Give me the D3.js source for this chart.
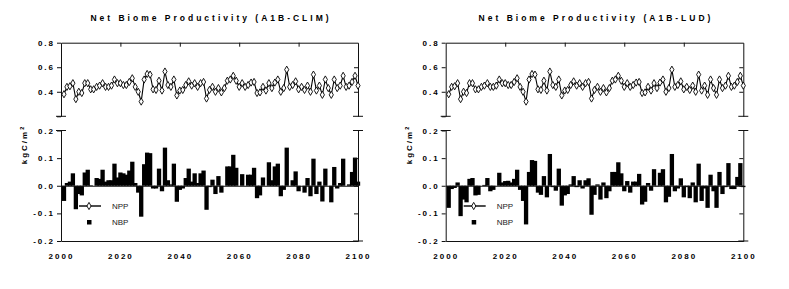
<!DOCTYPE html>
<html>
<head>
<meta charset="utf-8">
<script src="https://cdn.jsdelivr.net/npm/d3@7"></script>
<style>
body { margin: 0; background: #fff; }
svg text { font-family: "Liberation Sans", Arial, sans-serif; }
.axis .tick text { font-size: 8px; font-weight: bold; letter-spacing: 2px; fill: #000; }
.axis path, .axis line { stroke: #111; stroke-width: 1; }
</style>
</head>
<body>
<div id="vis"></div>
<script>
// data
const years = d3.range(2001, 2101);

const npp = [
  0.38, 0.44, 0.445, 0.47, 0.34, 0.40, 0.39, 0.47, 0.47, 0.42,
  0.42, 0.44, 0.45, 0.47, 0.44, 0.44, 0.45, 0.50, 0.47, 0.47,
  0.455, 0.455, 0.48, 0.51, 0.44, 0.40, 0.32, 0.50, 0.545, 0.54,
  0.42, 0.415, 0.49, 0.41, 0.565, 0.455, 0.44, 0.50, 0.37, 0.41,
  0.415, 0.455, 0.485, 0.45, 0.47, 0.44, 0.47, 0.48, 0.345, 0.415,
  0.44, 0.40, 0.43, 0.395, 0.43, 0.49, 0.50, 0.53, 0.49, 0.44,
  0.47, 0.44, 0.455, 0.475, 0.48, 0.39, 0.395, 0.44, 0.41, 0.47,
  0.43, 0.475, 0.50, 0.40, 0.43, 0.58, 0.44, 0.455, 0.485, 0.42,
  0.44, 0.415, 0.45, 0.40, 0.54, 0.41, 0.45, 0.375, 0.50, 0.43,
  0.375, 0.50, 0.43, 0.45, 0.53, 0.44, 0.45, 0.48, 0.53, 0.45
];

const nbpClim = [
  -0.055, 0.01, 0.015, 0.045, -0.085, -0.03, -0.035, 0.048, 0.058, 0.002,
  0.0, 0.028, 0.025, 0.058, 0.015, 0.02, 0.02, 0.08, 0.03, 0.048,
  0.045, 0.04, 0.055, 0.087, 0.01, -0.025, -0.112, 0.078, 0.12, 0.118,
  -0.01, -0.01, 0.062, -0.02, 0.138, 0.02, 0.005, 0.08, -0.058, -0.015,
  -0.01, 0.028, 0.062, 0.015, 0.045, 0.01, 0.045, 0.055, -0.087, -0.005,
  0.022, -0.03, 0.035, -0.025, 0.0, 0.07, 0.07, 0.112, 0.065, 0.0,
  0.042, 0.0, 0.04, 0.04, 0.065, -0.045, -0.035, 0.03, 0.0, 0.085,
  0.02, 0.07, 0.08, -0.038, -0.015, 0.138, 0.0, 0.02, 0.052, -0.02,
  0.0, -0.025, 0.028, -0.038, 0.098, -0.03, 0.015, -0.057, 0.062, 0.0,
  -0.06, 0.068, -0.01, 0.01, 0.098, 0.0, 0.005, 0.05, 0.102, 0.015
];

const nbpLud = [
  -0.08, -0.012, -0.008, 0.012, -0.11, -0.05, -0.06, 0.025, 0.028, -0.035,
  -0.033, 0.0, 0.003, 0.028, -0.02, -0.015, 0.0, 0.047, 0.012, 0.017,
  0.018, 0.012, 0.025, 0.058, -0.015, -0.055, -0.14, 0.05, 0.093, 0.09,
  -0.025, -0.033, 0.035, -0.042, 0.115, -0.005, -0.018, 0.062, -0.072, -0.035,
  -0.03, 0.005, 0.035, -0.005, 0.02, -0.01, 0.02, 0.027, -0.105, -0.033,
  0.005, -0.05, 0.012, -0.045, -0.02, 0.05, 0.05, 0.085, 0.045, -0.02,
  0.017, -0.025, 0.015, 0.015, 0.043, -0.068, -0.058, 0.01, -0.018, 0.06,
  -0.002, 0.047, 0.06, -0.06, -0.04, 0.115, -0.02, -0.01, 0.027, -0.042,
  -0.005, -0.045, 0.012, -0.06, 0.08, -0.055, -0.01, -0.08, 0.04, -0.02,
  -0.08, 0.05, -0.03, -0.005, 0.082, -0.012, -0.012, 0.032, 0.082, -0.005
];

const titles = ["Net Biome Productivity (A1B-CLIM)", "Net Biome Productivity (A1B-LUD)"];
const yearTicks = [2000, 2020, 2040, 2060, 2080, 2100];
const nppTicks = [0.2, 0.4, 0.6, 0.8];
const nbpTicks = [-0.2, -0.1, 0.0, 0.1, 0.2];
const legendLabels = ["NPP", "NBP"];

// frame
const FRAME_WIDTH = 789;
const FRAME_HEIGHT = 289;
const TOP_PANEL = {bottom: 116.3, top: 42.7};
const BOT_PANEL = {bottom: 241, top: 130.5};
const PANELS = [
  {left: 61, right: 358, title: titles[0], nbp: nbpClim, labelX: 24},
  {left: 445.7, right: 743.3, title: titles[1], nbp: nbpLud, labelX: 409}
];

const svg = d3.select("#vis")
  .append("svg")
  .attr("width", FRAME_WIDTH)
  .attr("height", FRAME_HEIGHT);

// short tick crossing the axis line
function crossTick(g, y) {
  g.append("line")
    .attr("x1", -5).attr("x2", 5)
    .attr("y1", y).attr("y2", y)
    .attr("stroke", "#111");
}

PANELS.forEach((p) => {
  const x = d3.scaleLinear().domain([2000, 2100]).range([p.left, p.right]);
  const yT = d3.scaleLinear().domain([0.2, 0.8]).range([TOP_PANEL.bottom, TOP_PANEL.top]);
  const yB = d3.scaleLinear().domain([-0.2, 0.2]).range([BOT_PANEL.bottom, BOT_PANEL.top]);
  const step = x(2001) - x(2000);

  // title
  svg.append("text")
    .attr("x", (p.left + p.right) / 2 + 1.5)
    .attr("y", 20.5)
    .attr("text-anchor", "middle")
    .attr("font-size", "8.5px")
    .attr("font-weight", "bold")
    .attr("letter-spacing", "3px")
    .attr("fill", "#000")
    .text(p.title);

  // ---- top panel (NPP) ----
  const tl = svg.append("g").attr("class", "axis")
    .attr("transform", "translate(" + p.left + ",0)")
    .call(d3.axisLeft(yT).tickValues(nppTicks).tickSize(4).tickSizeOuter(0).tickPadding(2)
      .tickFormat((d) => d === 0.2 ? "" : d.toFixed(1)));
  crossTick(tl, yT(0.2));

  const tr = svg.append("g").attr("class", "axis")
    .attr("transform", "translate(" + p.right + ",0)")
    .call(d3.axisLeft(yT).tickValues([0.4, 0.6]).tickSize(4).tickSizeOuter(0).tickFormat(""));
  crossTick(tr, yT(0.2));

  svg.append("g").attr("class", "axis")
    .attr("transform", "translate(0," + yT(0.8) + ")")
    .call(d3.axisBottom(x).tickValues([2020, 2040, 2060, 2080]).tickSize(4).tickSizeOuter(0).tickFormat(""));

  const line = d3.line()
    .x((d, i) => x(years[i]))
    .y((d) => yT(d));

  svg.append("path")
    .datum(npp)
    .attr("d", line)
    .attr("fill", "none")
    .attr("stroke", "#000")
    .attr("stroke-width", 1.1);

  svg.append("g")
    .selectAll("path")
    .data(npp)
    .join("path")
      .attr("transform", (d, i) => "translate(" + x(years[i]) + "," + yT(d) + ")")
      .attr("d", d3.symbol(d3.symbolDiamond, 15))
      .attr("fill", "#fff")
      .attr("stroke", "#000")
      .attr("stroke-width", 0.9);

  // ---- bottom panel (NBP) ----
  svg.append("g")
    .selectAll("rect")
    .data(p.nbp)
    .join("rect")
      .attr("x", (d, i) => x(years[i]) - step * 0.72)
      .attr("width", step * 1.45)
      .attr("y", (d) => yB(Math.max(0, d)))
      .attr("height", (d) => Math.abs(yB(d) - yB(0)))
      .attr("fill", "#000");

  const bl = svg.append("g").attr("class", "axis")
    .attr("transform", "translate(" + p.left + ",0)")
    .call(d3.axisLeft(yB).tickValues(nbpTicks).tickSize(4).tickSizeOuter(0).tickPadding(2)
      .tickFormat((d) => d.toFixed(1)));
  crossTick(bl, yB(0.2));

  const br = svg.append("g").attr("class", "axis")
    .attr("transform", "translate(" + p.right + ",0)")
    .call(d3.axisLeft(yB).tickValues([-0.1, 0.0, 0.1]).tickSize(4).tickSizeOuter(0).tickFormat(""));
  crossTick(br, yB(0.2));
  crossTick(br, yB(-0.2));

  svg.append("g").attr("class", "axis")
    .attr("transform", "translate(0," + yB(0) + ")")
    .call(d3.axisBottom(x).tickValues([]).tickSizeOuter(0));

  svg.append("g").attr("class", "axis")
    .attr("transform", "translate(0," + yB(-0.2) + ")")
    .call(d3.axisBottom(x).tickValues(yearTicks).tickSize(0).tickSizeOuter(0).tickPadding(12)
      .tickFormat(d3.format("d")));

  // y label
  const lab = svg.append("text")
    .attr("transform", "translate(" + p.labelX + "," + (BOT_PANEL.top + 14) + ") rotate(-90)")
    .attr("text-anchor", "middle")
    .attr("dy", "0.35em")
    .attr("font-size", "8px")
    .attr("font-weight", "bold")
    .attr("letter-spacing", "2px")
    .attr("fill", "#000")
    .text("kgC/m");
  lab.append("tspan")
    .attr("dy", "-0.6em")
    .attr("font-size", "5.5px")
    .text("2");

  // legend
  const lg = svg.append("g").attr("transform", "translate(" + p.left + ",0)");
  lg.append("line")
    .attr("x1", 18).attr("x2", 40)
    .attr("y1", 206).attr("y2", 206)
    .attr("stroke", "#000").attr("stroke-width", 1.4);
  lg.append("path")
    .attr("transform", "translate(28,206)")
    .attr("d", d3.symbol(d3.symbolDiamond, 15))
    .attr("fill", "#fff").attr("stroke", "#000").attr("stroke-width", 0.9);
  lg.append("rect")
    .attr("x", 26).attr("y", 220)
    .attr("width", 4.5).attr("height", 4.5)
    .attr("fill", "#000");
  lg.selectAll("text.leg")
    .data(legendLabels)
    .join("text")
      .attr("class", "leg")
      .attr("x", 51)
      .attr("y", (d, i) => 206 + i * 16)
      .attr("dy", "0.35em")
      .attr("font-size", "8px")
      .attr("fill", "#222")
      .text((d) => d);
});
</script>
</body>
</html>
